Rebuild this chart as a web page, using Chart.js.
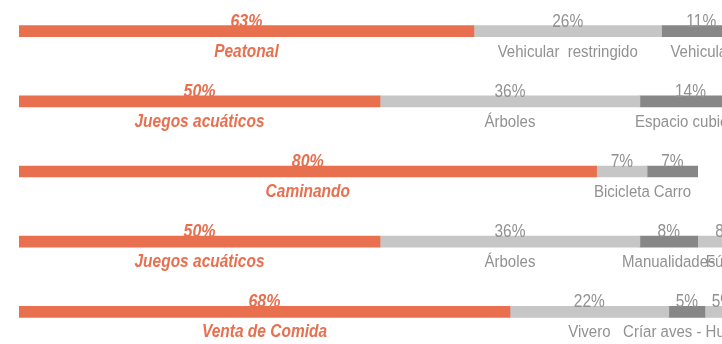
<!DOCTYPE html>
<html>
<head>
<meta charset="utf-8">
<script src="https://cdn.jsdelivr.net/npm/chart.js@4"></script>
<style>
  html, body { margin: 0; padding: 0; background: #fff; overflow: hidden; }
  #wrap { position: relative; width: 722px; height: 344px; overflow: hidden; }
  #chart { position: absolute; left: 0; top: -4px; }
</style>
</head>
<body>
<div id="wrap"><canvas id="chart" width="760" height="351"></canvas></div>
<script>
// rows (one survey question each) and the share of every answer, in %
var rows = ['P1', 'P2', 'P3', 'P4', 'P5'];

var first  = [63, 50, 80, 50, 68];
var second = [26, 36, 7, 36, 22];
var third  = [11, 14, 7, 8, 5];
var fourth = [null, null, null, 8, 5];

var firstNames  = ['Peatonal', 'Juegos acuáticos', 'Caminando', 'Juegos acuáticos', 'Venta de Comida'];
var secondNames = ['Vehicular  restringido', 'Árboles', 'Bicicleta', 'Árboles', 'Vivero'];
var thirdNames  = ['Vehicular', 'Espacio cubierto', 'Carro', 'Manualidades', 'Críar aves - Huerto'];
var fourthNames = ['', '', '', 'Fútbol', ''];

var ORANGE = '#E8704F';
var LIGHT = '#C6C6C6';
var DARK = '#878787';
var GREY_TEXT = '#919191';
var FAMILY = '"Liberation Sans", Arial, sans-serif';
var STRETCH = 1.16; // labels are drawn a bit taller than the font

function tallText(ctx, text, x, y) {
  ctx.save();
  ctx.translate(x, y);
  ctx.scale(1, STRETCH);
  ctx.fillText(text, 0, 0);
  ctx.restore();
}

// percent above each piece, answer name under it
var segmentLabels = {
  id: 'segmentLabels',
  afterDatasetsDraw: function(chart) {
    var ctx = chart.ctx;
    ctx.save();
    ctx.textAlign = 'center';
    ctx.textBaseline = 'alphabetic';
    chart.data.datasets.forEach(function(ds, i) {
      var meta = chart.getDatasetMeta(i);
      meta.data.forEach(function(bar, j) {
        var v = ds.data[j];
        if (v == null) return;
        var cx = (bar.x + bar.base) / 2;
        var top = bar.y - bar.height / 2;
        var bottom = bar.y + bar.height / 2;
        if (i === 0) {
          ctx.fillStyle = ORANGE;
          ctx.font = 'italic bold 16px ' + FAMILY;
        } else {
          ctx.fillStyle = GREY_TEXT;
          ctx.font = '15.5px ' + FAMILY;
        }
        tallText(ctx, v + '%', cx, top + 1);
        if (i === 0) ctx.font = 'italic bold 15.5px ' + FAMILY;
        else ctx.font = '15px ' + FAMILY;
        tallText(ctx, ds.names[j], cx, bottom + 20);
      });
    });
    ctx.restore();
  }
};

function piece(values, names, color) {
  return {
    data: values,
    names: names,
    backgroundColor: color,
    borderWidth: 0,
    barThickness: 11
  };
}

var chart = new Chart(document.getElementById('chart'), {
  type: 'bar',
  data: {
    labels: rows,
    datasets: [
      piece(first, firstNames, ORANGE),
      piece(second, secondNames, LIGHT),
      piece(third, thirdNames, DARK),
      piece(fourth, fourthNames, LIGHT)
    ]
  },
  options: {
    indexAxis: 'y',
    responsive: false,
    animation: false,
    layout: { padding: { left: 19, right: 19, top: 0, bottom: 0 } },
    plugins: {
      legend: { display: false },
      tooltip: { enabled: false }
    },
    scales: {
      x: { stacked: true, min: 0, max: 100, display: false },
      y: { stacked: true, display: false }
    }
  },
  plugins: [segmentLabels]
});
</script>
</body>
</html>
